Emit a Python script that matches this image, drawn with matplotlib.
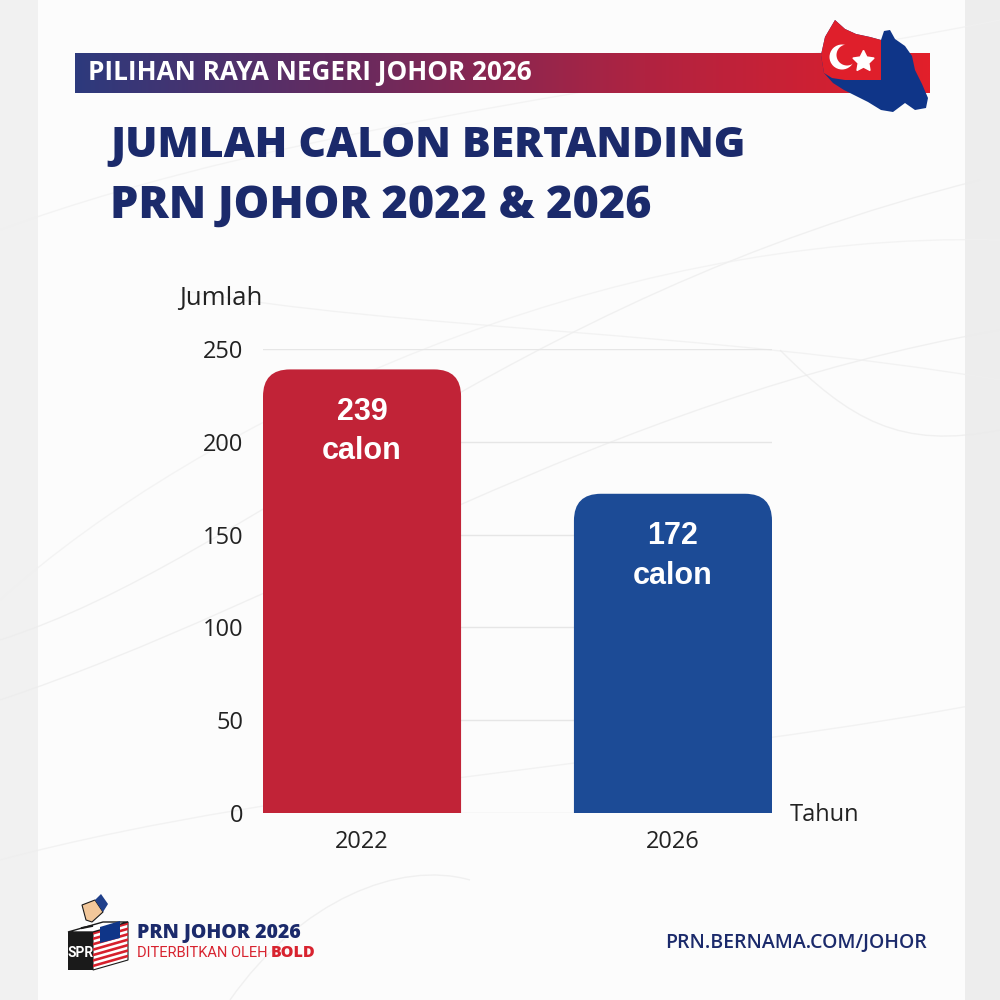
import numpy as np
import matplotlib
matplotlib.use("Agg")
import matplotlib.pyplot as plt
from matplotlib.path import Path
from matplotlib.patches import PathPatch, Polygon, Circle, Rectangle
from matplotlib.colors import LinearSegmentedColormap

# ---------------- data ----------------
years = ["2022", "2026"]
candidates = [239, 172]
bar_labels = ["239\ncalon", "172\ncalon"]
bar_colors = ["#c12337", "#1c4b96"]
yticks = [0, 50, 100, 150, 200, 250]

NAVY = "#1b2a6b"

fig = plt.figure(figsize=(10, 10), dpi=100)
fig.patch.set_facecolor("#f3f3f3")

# ---------- decoration layer (pixel coordinates, y downwards) ----------
deco = fig.add_axes([0, 0, 1, 1], zorder=0)
deco.set_xlim(0, 1000)
deco.set_ylim(1000, 0)
deco.axis("off")

# inner panel
deco.add_patch(Rectangle((38, 0), 927, 1000, facecolor="#fcfcfc", edgecolor="none"))
deco.add_patch(Rectangle((965, 0), 35, 1000, facecolor="#ededed", edgecolor="none"))
deco.add_patch(Rectangle((0, 0), 38, 1000, facecolor="#f1f1f1", edgecolor="none"))

# faint swooshes
def swoosh(p0, p1, p2, p3, color="#ececec", lw=1.0, alpha=0.7):
    verts = [p0, p1, p2, p3]
    codes = [Path.MOVETO, Path.CURVE4, Path.CURVE4, Path.CURVE4]
    deco.add_patch(PathPatch(Path(verts, codes), facecolor="none",
                             edgecolor=color, lw=lw, alpha=alpha))

swoosh((0, 640), (250, 560), (500, 300), (980, 180))
swoosh((0, 700), (300, 600), (600, 400), (1000, 330))
swoosh((0, 600), (200, 420), (600, 230), (1000, 240), color="#f0f0f0")
swoosh((180, 290), (400, 330), (700, 330), (1000, 380), color="#efefef")
swoosh((0, 230), (300, 120), (700, 80), (1000, 20), color="#f0f0f0")
swoosh((0, 860), (300, 780), (700, 760), (1000, 700), color="#eeeeee")
swoosh((230, 1000), (300, 900), (400, 860), (470, 880), color="#ebebeb")
swoosh((780, 350), (850, 420), (900, 450), (1000, 430), color="#ebebeb")

# banner gradient
cmap = LinearSegmentedColormap.from_list("ban", ["#2d3a7d", "#6a2a5e", "#b02341", "#e21f2a"])
grad = np.linspace(0, 1, 512).reshape(1, -1)
deco.imshow(grad, cmap=cmap, extent=(75, 930, 93, 53), aspect="auto", zorder=1)
deco.set_xlim(0, 1000)
deco.set_ylim(1000, 0)
deco.text(88, 73, "PILIHAN RAYA NEGERI JOHOR 2026", color="white", fontsize=18.8,
          fontweight="bold", family="Open Sans", va="center", ha="left", zorder=2)

# Johor map icon (simplified)
outline = [(835, 20), (845, 29), (856, 34), (870, 37), (881, 40), (884, 31), (890, 30),
           (895, 39), (905, 46), (912, 56), (915, 70), (922, 84), (928, 98), (926, 108),
           (915, 110), (905, 103), (893, 112), (881, 110), (868, 102), (856, 96),
           (844, 90), (833, 83), (824, 73), (821, 55), (825, 37)]
deco.add_patch(Polygon(outline, closed=True, facecolor="#0f3588", edgecolor="none", zorder=3))
red_part = [(835, 20), (845, 29), (856, 34), (870, 37), (881, 40), (881, 80),
            (845, 80), (832, 78), (824, 73), (821, 55), (825, 37)]
deco.add_patch(Polygon(red_part, closed=True, facecolor="#df1f2b", edgecolor="none", zorder=4))
deco.add_patch(Circle((842, 57), 12.5, facecolor="white", edgecolor="none", zorder=5))
deco.add_patch(Circle((847, 55), 10.5, facecolor="#df1f2b", edgecolor="none", zorder=6))
deco.plot([863], [61], marker=(5, 1, 0), markersize=16, color="white", zorder=7, mec="white")

# title
deco.text(110, 146, "JUMLAH CALON BERTANDING", color=NAVY, fontsize=30.8,
          fontweight="heavy", family="Open Sans", va="center", ha="left")
deco.text(110, 206, "PRN JOHOR 2022 & 2026", color=NAVY, fontsize=32.3,
          fontweight="heavy", family="Open Sans", va="center", ha="left")

# axis captions
deco.text(179, 298, "Jumlah", color="#222222", fontsize=18.5, family="Open Sans",
          va="center", ha="left")
deco.text(790, 815, "Tahun", color="#222222", fontsize=17, family="Open Sans",
          va="center", ha="left")

# footer logo (simplified ballot box)
box = [(68, 932), (93, 932), (93, 970), (68, 970)]
deco.add_patch(Polygon(box, closed=True, facecolor="#1a1a1a", edgecolor="none", zorder=3))
side = [(93, 932), (128, 922), (128, 960), (93, 970)]
deco.add_patch(Polygon(side, closed=True, facecolor="white", edgecolor="#1a1a1a", lw=0.8, zorder=3))
for i in range(7):
    t0 = i / 7.0
    t1 = (i + 0.5) / 7.0
    y0l, y1l = 932 + 38 * t0, 932 + 38 * t1
    y0r, y1r = 922 + 38 * t0, 922 + 38 * t1
    deco.add_patch(Polygon([(93, y0l), (128, y0r), (128, y1r), (93, y1l)], closed=True,
                           facecolor="#d6202c", edgecolor="none", zorder=4))
deco.add_patch(Polygon([(100, 927), (120, 921), (120, 938), (100, 943)], closed=True,
                       facecolor="#0f3588", edgecolor="none", zorder=5))
top = [(68, 932), (93, 932), (128, 922), (103, 922)]
deco.add_patch(Polygon(top, closed=True, facecolor="white", edgecolor="#1a1a1a", lw=1, zorder=4))
deco.plot([82, 92], [928, 926], color="#1a1a1a", lw=1.5, zorder=5)
deco.add_patch(Polygon([(82, 905), (95, 900), (103, 912), (92, 922), (86, 920)], closed=True,
                       facecolor="#f2c79a", edgecolor="#1a1a1a", lw=0.8, zorder=5))
deco.add_patch(Polygon([(95, 900), (101, 894), (108, 904), (103, 912)], closed=True,
                       facecolor="#1f3f8a", edgecolor="none", zorder=6))
deco.text(80.5, 953, "SPR", color="white", fontsize=10, fontweight="bold",
          family="Roboto", ha="center", va="center", zorder=6)

deco.text(137, 933, "PRN JOHOR 2026", color=NAVY, fontsize=14, fontweight="heavy",
          family="Open Sans", va="center", ha="left")
t1 = deco.text(137, 953, "DITERBITKAN OLEH ", color="#d8232f", fontsize=10.5,
               family="Roboto", va="center", ha="left")
fig.canvas.draw()
bb = t1.get_window_extent()
inv = deco.transData.inverted()
xend = inv.transform((bb.x1, bb.y0))[0]
deco.text(xend, 953, "BOLD", color="#d8232f", fontsize=11.5, fontweight="heavy",
          family="Open Sans", va="center", ha="left")

deco.text(927, 943, "PRN.BERNAMA.COM/JOHOR", color=NAVY, fontsize=14,
          fontweight="semibold", family="Open Sans", va="center", ha="right")

# ---------------- main chart ----------------
ax = fig.add_axes([0.263, 0.187, 0.509, 0.464], zorder=2)
ax.patch.set_alpha(0)
w = 0.637
x = np.arange(len(years))
bars = ax.bar(x, candidates, width=w, color=bar_colors, zorder=3)
ax.set_xlim(-w / 2, len(years) - 1 + w / 2)
ax.set_ylim(0, 250)

# rounded top corners: convert px radius to data units
fig.canvas.draw()
px_per_x = ax.bbox.width / (ax.get_xlim()[1] - ax.get_xlim()[0])
px_per_y = ax.bbox.height / (ax.get_ylim()[1] - ax.get_ylim()[0])
r_px = 27
rx, ry = r_px / px_per_x, r_px / px_per_y
for b in bars:
    x0, y0 = b.get_x(), b.get_y()
    bw, bh = b.get_width(), b.get_height()
    x1, y1 = x0 + bw, y0 + bh
    verts = [(x0, y0), (x0, y1 - ry), (x0, y1), (x0 + rx, y1),
             (x1 - rx, y1), (x1, y1), (x1, y1 - ry), (x1, y0), (x0, y0)]
    codes = [Path.MOVETO, Path.LINETO, Path.CURVE3, Path.CURVE3,
             Path.LINETO, Path.CURVE3, Path.CURVE3, Path.LINETO, Path.CLOSEPOLY]
    ax.add_patch(PathPatch(Path(verts, codes), facecolor=b.get_facecolor(),
                           edgecolor="none", zorder=3))
    b.set_visible(False)

for xi, v, lab in zip(x, candidates, bar_labels):
    num, word = lab.split("\n")
    ax.annotate(num, (xi, v), xytext=(0, -30.5), textcoords="offset points",
                ha="center", va="center", color="white", fontsize=22,
                fontweight="bold", family="Liberation Sans", zorder=4)
    ax.annotate(word, (xi, v), xytext=(0, -59), textcoords="offset points",
                ha="center", va="center", color="white", fontsize=22,
                fontweight="bold", family="Liberation Sans", zorder=4)

ax.set_yticks(yticks)
ax.set_xticks(x)
ax.set_xticklabels(years)
ax.grid(axis="y", color="#e6e6e6", lw=1, zorder=0)
for s in ax.spines.values():
    s.set_visible(False)
ax.tick_params(axis="both", length=0, labelsize=17, labelcolor="#222222")
ax.tick_params(axis="y", pad=14)
ax.tick_params(axis="x", pad=12)
for lbl in ax.get_xticklabels() + ax.get_yticklabels():
    lbl.set_family("Open Sans")

fig.savefig("out.png", dpi=100, facecolor=fig.get_facecolor())
